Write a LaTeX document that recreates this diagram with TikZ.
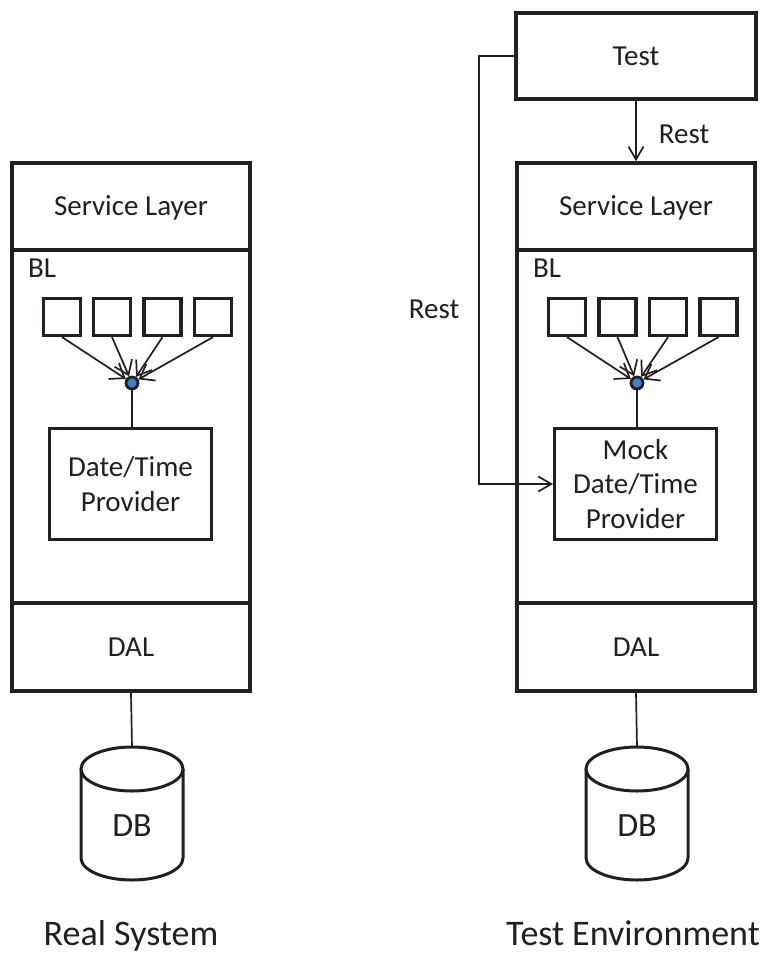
\documentclass[tikz,border=0pt]{standalone}
\usepackage{fontspec}
\setmainfont{Carlito}
\usetikzlibrary{arrows.meta}
\definecolor{ink}{HTML}{231F20}
\definecolor{dotblue}{HTML}{3F7FCB}
\begin{document}
\begin{tikzpicture}[x=1pt,y=-1pt,
  txt/.style={text=ink, font=\fontsize{29}{34.5}\selectfont},
  layer/.style={draw=ink, line width=3.5pt, minimum width=238pt, inner sep=0pt,
    txt, text height=18.7pt, text depth=0pt},
  mini/.style={draw=ink, line width=3.2pt, minimum width=37pt, minimum height=37pt, inner sep=0pt},
  provider/.style={draw=ink, line width=3pt, minimum width=162pt, minimum height=111pt, inner sep=0pt, align=center, txt},
  hub/.style={circle, draw=ink, fill=dotblue, line width=2.8pt, minimum size=12pt, inner sep=0pt},
  conn/.style={draw=ink, line width=1.7pt},
  arr/.style={conn, -{Straight Barb[length=13pt,width=15pt]}},
  fanarr/.style={conn, -{Straight Barb[length=13pt,width=19pt]}},
  cyl/.style={draw=ink, line width=3pt, fill=white},
  big/.style={text=ink, font=\fontsize{36}{42}\selectfont, inner sep=0pt},
  dbtxt/.style={text=ink, font=\fontsize{34}{40}\selectfont, inner sep=0pt, text height=21.9pt, text depth=0pt}
]
\useasboundingbox (0,0) rectangle (770,954);

% ---------------- Left column: Real System ----------------
\node[layer, minimum height=87pt] (sl1) at (131,206.5) {Service Layer};
\node[layer, minimum height=353pt] (bl1) at (131,426.5) {};
\node[layer, minimum height=88pt] (dal1) at (131,647) {DAL};
\node[txt, anchor=base west, inner sep=0pt] (bllab1) at (28,277) {BL};

\node[mini] (a1) at (62,317) {};
\node[mini] (a2) at (112,317) {};
\node[mini] (a3) at (162.5,317) {};
\node[mini] (a4) at (213,317) {};
\node[hub] (h1) at (132,383) {};
\foreach \b in {a1,a2,a3,a4} \draw[fanarr] (\b.south) -- (h1);

\node[provider] (dtp1) at (130.5,484) {Date/Time\\Provider};
\draw[conn] (h1) -- (h1 |- dtp1.north);

\coordinate (dbtop1) at (132,747);
\draw[conn] (dal1.south) -- (dbtop1);
\draw[cyl] (81,769) -- (81,858) .. controls (81,870.15) and (103.8,880) .. (132,880)
  .. controls (160.2,880) and (183,870.15) .. (183,858) -- (183,769);
\draw[cyl] (132,769) ellipse [x radius=51, y radius=22];
\node[dbtxt] (db1) at (132,826) {DB};

\node[big, anchor=base] (rs) at (131,945) {Real System};

% ---------------- Right column: Test Environment ----------------
\node[layer, minimum width=240pt, minimum height=86pt] (test) at (636,56) {Test};
\node[layer, minimum height=87pt] (sl2) at (636,206.5) {Service Layer};
\node[layer, minimum height=353pt] (bl2) at (636,426.5) {};
\node[layer, minimum height=88pt] (dal2) at (636,647) {DAL};
\node[txt, anchor=base west, inner sep=0pt] (bllab2) at (533,277) {BL};

\node[mini] (b1) at (567,317) {};
\node[mini] (b2) at (617.5,317) {};
\node[mini] (b3) at (668,317) {};
\node[mini] (b4) at (718.5,317) {};
\node[hub] (h2) at (637,383) {};
\foreach \b in {b1,b2,b3,b4} \draw[fanarr] (\b.south) -- (h2);

\node[provider] (dtp2) at (635.5,484) {Mock\\Date/Time\\Provider};
\draw[conn] (h2) -- (h2 |- dtp2.north);

\draw[arr] (test.south) -- (sl2.north);
\node[txt, anchor=base, inner sep=0pt] (rest1) at (684,143) {Rest};

\coordinate (bend) at (479,56);
\draw[arr] (test.west) -- (bend) |- (dtp2.west);
\node[txt, anchor=base, inner sep=0pt] (rest2) at (434,318) {Rest};

\coordinate (dbtop2) at (637,747);
\draw[conn] (dal2.south) -- (dbtop2);
\draw[cyl] (586,769) -- (586,858) .. controls (586,870.15) and (608.8,880) .. (637,880)
  .. controls (665.2,880) and (688,870.15) .. (688,858) -- (688,769);
\draw[cyl] (637,769) ellipse [x radius=51, y radius=22];
\node[dbtxt] (db2) at (637,826) {DB};

\node[big, anchor=base] (te) at (633,945) {Test Environment};
\end{tikzpicture}
\end{document}
